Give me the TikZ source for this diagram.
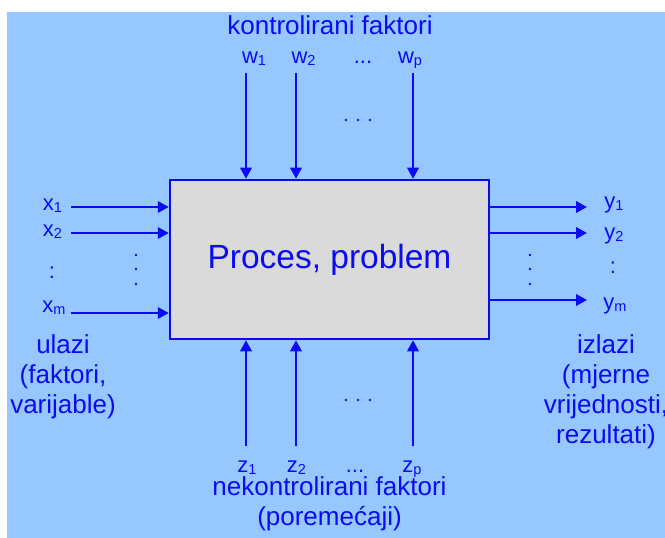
\documentclass[tikz,border=0pt]{standalone}
\usepackage{fontspec}
\setmainfont{Liberation Sans}
\usetikzlibrary{arrows.meta}

\definecolor{bgblue}{RGB}{150,200,255}
\definecolor{ink}{RGB}{10,10,245}
\definecolor{boxgrey}{RGB}{218,218,218}

\newcommand{\subidx}[1]{\raisebox{-2bp}{\fontsize{14.5bp}{14.5bp}\selectfont #1}}

\tikzset{
  lab/.style={text=ink, inner sep=0pt, anchor=base, font=\fontsize{22bp}{22bp}\selectfont},
  heading/.style={text=ink, inner sep=0pt, anchor=base, align=center, font=\fontsize{26bp}{30bp}\selectfont},
  procbox/.style={draw=ink, line width=2.5bp, fill=boxgrey, text=ink, inner sep=0pt,
    minimum width=319bp, minimum height=159bp, font=\fontsize{33.5bp}{33.5bp}\selectfont},
  arr/.style={draw=ink, line width=2bp, -{Triangle[length=11bp,width=11.5bp]}},
  dotmark/.style={fill=ink}
}

\begin{document}
\begin{tikzpicture}[x=1bp, y=-1bp]

  % Background
  \useasboundingbox (0,0) rectangle (665,538);
  \fill[white] (0,0) rectangle (665,538);
  \fill[bgblue] (7,12) rectangle (665,538);

  % Process box
  \node[procbox] (box) at (329.5,259.5) {Proces, problem};

  % Controlled factors (top)
  \node[heading] (controlled) at (330,35) {kontrolirani faktori};
  \node[lab] (w1) at (254,64) {w\subidx{1}};
  \node[lab] (w2) at (303.5,64) {w\subidx{2}};
  \node[lab] (wdots) at (363,64) {...};
  \node[lab] (wp) at (410,64) {w\subidx{p}};
  \coordinate (w1in) at (246,73);
  \coordinate (w2in) at (296,73);
  \coordinate (wpin) at (413,73);

  % Inputs (left), base = last line
  \node[lab] (x1) at (52.5,211) {x\subidx{1}};
  \node[lab] (x2) at (52.5,237) {x\subidx{2}};
  \node[lab] (xdots) at (52,278) {:};
  \node[lab] (xm) at (54,312) {x\subidx{m}};
  \node[heading] (inputs) at (63,413) {ulazi\\(faktori,\\varijable)};
  \coordinate (x1in) at (71,207);
  \coordinate (x2in) at (71,233);
  \coordinate (xmin) at (71,313);

  % Outputs (right)
  \node[lab] (y1) at (614,209) {y\subidx{1}};
  \node[lab] (y2) at (614,240) {y\subidx{2}};
  \node[lab] (ydots) at (613,273) {:};
  \node[lab] (ym) at (615,309) {y\subidx{m}};
  \node[heading] (outputs) at (606,443) {izlazi\\(mjerne\\vrijednosti,\\rezultati)};
  \coordinate (y1out) at (587,207);
  \coordinate (y2out) at (587,233);
  \coordinate (ymout) at (587,300);

  % Uncontrolled factors (bottom)
  \node[lab] (z1) at (247,472) {z\subidx{1}};
  \node[lab] (z2) at (296.5,472) {z\subidx{2}};
  \node[lab] (zdots) at (355,472) {...};
  \node[lab] (zp) at (412,472) {z\subidx{p}};
  \node[heading] (uncontrolled) at (329.5,525) {nekontrolirani faktori\\(poremećaji)};
  \coordinate (z1in) at (246,446);
  \coordinate (z2in) at (296,446);
  \coordinate (zpin) at (413,446);

  % Arrows
  \foreach \c in {w1in,w2in,wpin}
    \draw[arr] (\c) -- (\c |- box.north);
  \foreach \c in {z1in,z2in,zpin}
    \draw[arr] (\c) -- (\c |- box.south);
  \foreach \c in {x1in,x2in,xmin}
    \draw[arr] (\c) -- (\c -| box.west);
  \foreach \c in {y1out,y2out,ymout}
    \draw[arr] (\c -| box.east) -- (\c);

  % Dots
  \foreach \t in {346,358,370} {
    \fill[dotmark] (\t,120) circle (1.3);
    \fill[dotmark] (\t,400) circle (1.3);
  }
  \foreach \t in {255,269,284} {
    \fill[dotmark] (136,\t) circle (1.3);
    \fill[dotmark] (530,\t) circle (1.3);
  }

\end{tikzpicture}
\end{document}
